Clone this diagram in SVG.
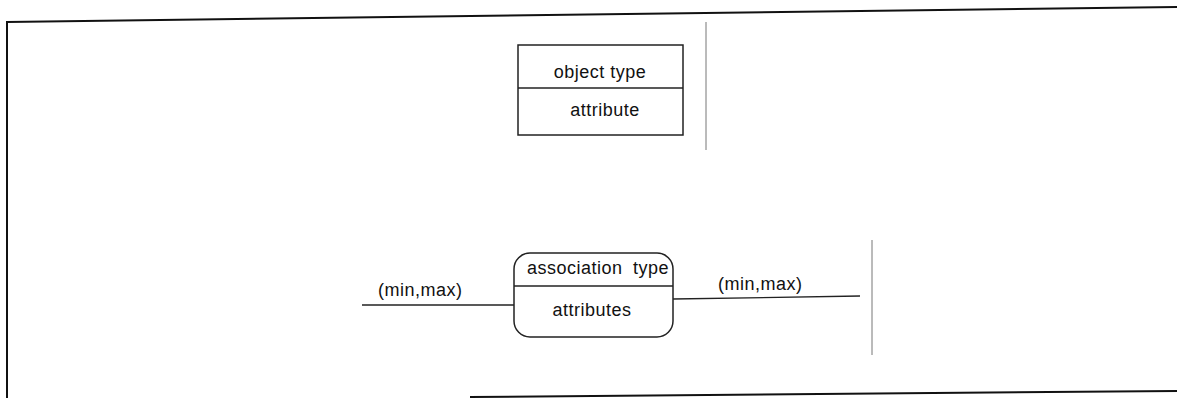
<svg xmlns="http://www.w3.org/2000/svg" width="1177" height="398" viewBox="0 0 1177 398">
<style>
.t{font-family:"Liberation Sans",Arial,sans-serif;font-size:18px;letter-spacing:0.5px;fill:#111}
.box{fill:none;stroke:#222;stroke-width:1.5}
.ln{fill:none;stroke:#222;stroke-width:1.3}
.frame{fill:none;stroke:#111;stroke-width:2}
.sep{fill:none;stroke:#777;stroke-width:1}
</style>
<rect width="1177" height="398" fill="#fff"/>
<g id="frame">
<line class="frame" x1="7" y1="22" x2="1177" y2="7"/>
<line class="frame" x1="7" y1="21" x2="7" y2="398"/>
<line class="frame" x1="470" y1="397" x2="1177" y2="391"/>
<line class="sep" x1="706" y1="22" x2="706" y2="150"/>
<line class="sep" x1="872" y1="240" x2="872" y2="355"/>
</g>
<g id="object-type">
<rect class="box" x="518" y="45" width="165" height="90"/>
<line class="box" x1="518" y1="88" x2="683" y2="88" stroke-width="1"/>
<text class="t" x="600" y="78" text-anchor="middle">object type</text>
<text class="t" x="605" y="116" text-anchor="middle">attribute</text>
</g>
<g id="association-type">
<rect class="box" x="514" y="253" width="159" height="84" rx="16" ry="16"/>
<line class="box" x1="514" y1="286" x2="673" y2="286" stroke-width="1.2"/>
<text class="t" x="598" y="274" text-anchor="middle" word-spacing="5">association type</text>
<text class="t" x="592" y="316" text-anchor="middle">attributes</text>
</g>
<g id="connectors">
<line class="ln" x1="362" y1="305" x2="514" y2="305"/>
<line class="ln" x1="673" y1="299" x2="860" y2="296"/>
<text class="t" x="378" y="296">(min,max)</text>
<text class="t" x="718" y="290">(min,max)</text>
</g>
</svg>
